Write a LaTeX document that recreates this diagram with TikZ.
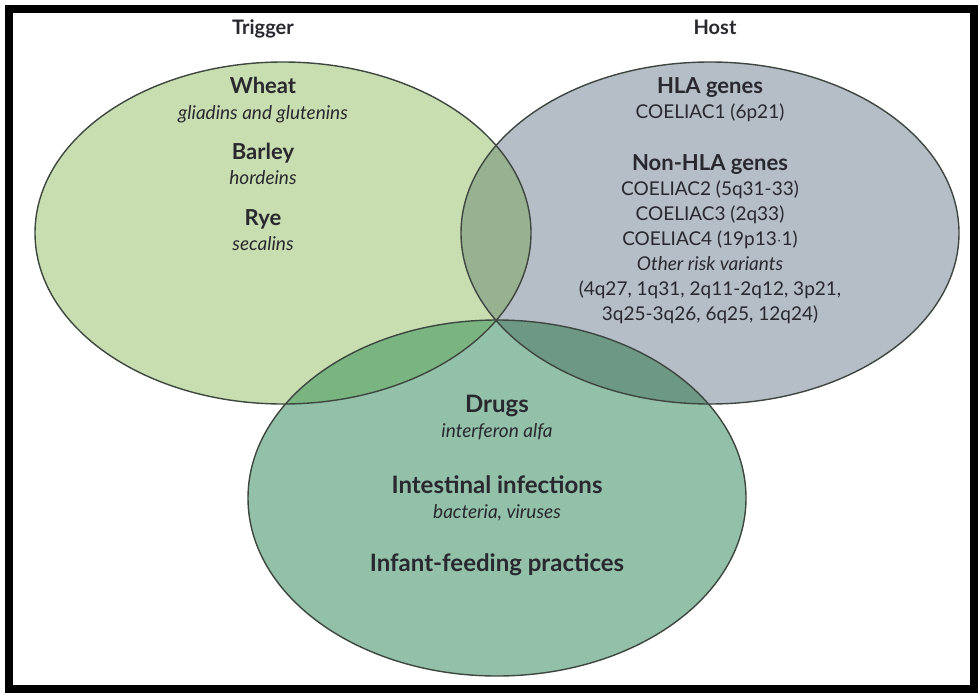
\documentclass[tikz,border=0pt]{standalone}
\usepackage{fontspec}
\setmainfont{Lato}
\definecolor{trigfill}{RGB}{200,222,176}
\definecolor{hostfill}{RGB}{181,189,199}
\definecolor{envfill}{RGB}{146,192,168}
\definecolor{trighost}{RGB}{152,177,145}
\definecolor{trigenv}{RGB}{122,180,128}
\definecolor{hostenv}{RGB}{108,152,132}
\definecolor{rim}{RGB}{62,70,64}
\definecolor{ink}{RGB}{40,40,46}
\newcommand{\trigpath}{(283,233) ellipse [x radius=248pt, y radius=171pt]}
\newcommand{\hostpath}{(710,233) ellipse [x radius=249pt, y radius=171pt]}
\newcommand{\envpath}{(497,498) ellipse [x radius=249pt, y radius=178pt]}
\newcommand{\hd}[1]{{\fontsize{22}{25}\selectfont\bfseries #1}}
\newcommand{\hdbig}[1]{{\fontsize{24}{25}\selectfont\bfseries #1}}
\tikzset{
  txt/.style={text=ink, align=center, inner sep=0pt, anchor=base,
    font=\fontsize{19}{25}\selectfont},
  head/.style={txt, font=\fontsize{20}{25}\selectfont\bfseries},
}
\begin{document}
\begin{tikzpicture}[x=1pt, y=-1pt]
\useasboundingbox (0,0) rectangle (979,693);
\draw[line width=8pt] (9,9) rectangle (974,689);
% circles
\fill[trigfill] \trigpath;
\fill[hostfill] \hostpath;
\fill[envfill] \envpath;
\begin{scope}
\clip \trigpath;
\fill[trighost] \hostpath;
\fill[trigenv] \envpath;
\end{scope}
\begin{scope}
\clip \hostpath;
\fill[hostenv] \envpath;
\end{scope}
\draw[rim, line width=1.4pt] \trigpath \hostpath \envpath;
% titles
\node[head] (trigger) at (263,35) {Trigger};
\node[head] (host) at (715,35) {Host};
% trigger (anchored at last line)
\node[txt] (wheat) at (263,119) {\hd{Wheat}\\[1pt]\textit{gliadins and glutenins}};
\node[txt] (barley) at (263,184) {\hd{Barley}\\\textit{hordeins}};
\node[txt] (rye) at (263,250) {\hd{Rye}\\\textit{secalins}};
% host
\node[txt] (hla) at (710,118) {\hd{HLA genes}\\COELIAC1 (6p21)};
\node[txt] (nonhla) at (710,320) {\hd{Non-HLA genes}\\COELIAC2 (5q31-33)\\COELIAC3 (2q33)\\COELIAC4 (19p13$\cdot$1)\\\textit{Other risk variants}\\(4q27, 1q31, 2q11-2q12, 3p21,\\3q25-3q26, 6q25, 12q24)};
% environment
\node[txt] (drugs) at (497,437) {\hdbig{Drugs}\\\textit{interferon alfa}};
\node[txt] (infect) at (497,518) {\hdbig{Intestinal infections}\\\textit{bacteria, viruses}};
\node[txt] (infant) at (497,571) {\hdbig{Infant-feeding practices}};
\end{tikzpicture}
\end{document}
